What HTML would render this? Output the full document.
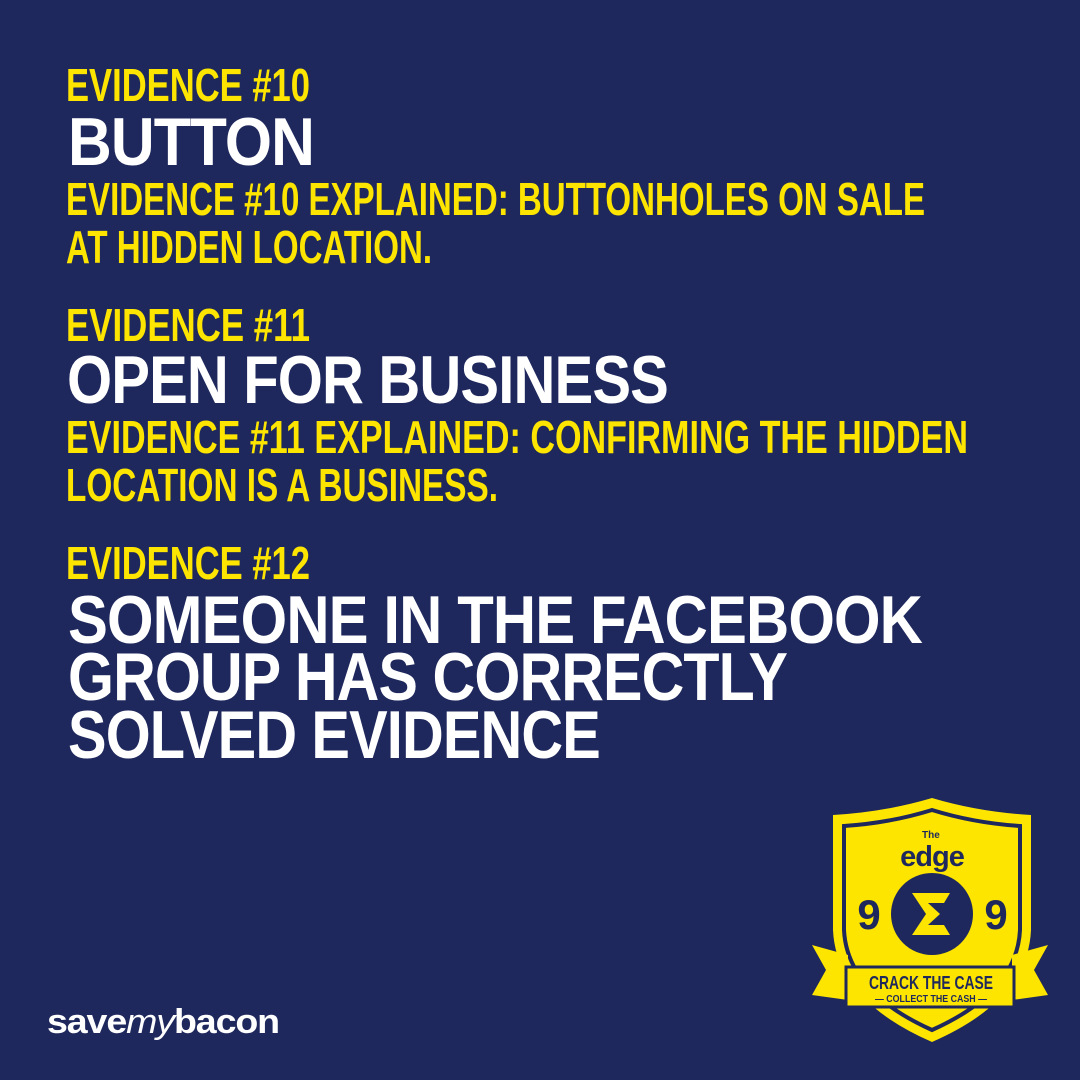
<!DOCTYPE html>
<html><head><meta charset="utf-8">
<style>
html,body{margin:0;padding:0}
body{width:1080px;height:1080px;background:#1e285c;position:relative;overflow:hidden;font-family:"Liberation Sans",sans-serif}
.l{position:absolute;white-space:nowrap;line-height:1;transform-origin:0 0}
.y{color:#fde500;font-family:"Liberation Sans Narrow","Liberation Sans",sans-serif;font-weight:bold;font-size:46px}
.w{color:#fff;font-weight:bold;font-size:68px;letter-spacing:-1px}
</style></head><body>
<div class="l y" data-w="244" style="left:66px;top:62px">EVIDENCE #10</div>
<div class="l w" data-w="246" style="left:68px;top:108px">BUTTON</div>
<div class="l y" data-w="859" style="left:66px;top:176px">EVIDENCE #10 EXPLAINED: BUTTONHOLES ON SALE</div>
<div class="l y" data-w="366" style="left:66px;top:224px">AT HIDDEN LOCATION.</div>
<div class="l y" data-w="244" style="left:66px;top:302px">EVIDENCE #11</div>
<div class="l w" data-w="601" style="left:67px;top:346px">OPEN FOR BUSINESS</div>
<div class="l y" data-w="902" style="left:66px;top:414px">EVIDENCE #11 EXPLAINED: CONFIRMING THE HIDDEN</div>
<div class="l y" data-w="432" style="left:66px;top:462px">LOCATION IS A BUSINESS.</div>
<div class="l y" data-w="244" style="left:66px;top:540px">EVIDENCE #12</div>
<div class="l w" data-w="854" style="left:68px;top:586px">SOMEONE IN THE FACEBOOK</div>
<div class="l w" data-w="719" style="left:68px;top:643px">GROUP HAS CORRECTLY</div>
<div class="l w" data-w="532" style="left:68px;top:701px">SOLVED EVIDENCE</div>

<div class="l" data-w="232" style="left:47px;top:1005px;color:#fff;font-size:34px;font-weight:bold;letter-spacing:-1px">save<span style="font-weight:normal;font-style:italic">my</span>bacon</div>

<svg width="1080" height="1080" style="position:absolute;left:0;top:0">
  <path d="M833 815 Q885 812 932 798 Q979 812 1031 815 L1031 930 Q1028 1000 932 1042 Q836 1000 833 930 Z" fill="#fde500"/>
  <path d="M844 826 Q890 823 932 810 Q974 823 1020 826 L1020 930 Q1017 992 932 1030 Q847 992 844 930 Z" fill="none" stroke="#1e285c" stroke-width="4"/>
  <path d="M812 945 L848 955 L848 1000 L812 995 L826 970 Z" fill="#fde500"/>
  <path d="M1048 945 L1012 955 L1012 1000 L1048 995 L1034 970 Z" fill="#fde500"/>
  <rect x="846" y="967" width="168" height="40" fill="#fde500" stroke="#1e285c" stroke-width="3"/>
  <text x="869" y="989" textLength="124" lengthAdjust="spacingAndGlyphs" font-family="'Liberation Sans', sans-serif" font-weight="bold" font-size="18" fill="#1e285c">CRACK THE CASE</text>
  <text x="875" y="1002" textLength="112" lengthAdjust="spacingAndGlyphs" font-family="'Liberation Sans', sans-serif" font-weight="bold" font-size="10" fill="#1e285c">— COLLECT THE CASH —</text>
  <text x="922" y="838" font-family="'Liberation Sans', sans-serif" font-weight="bold" font-size="10" fill="#1e285c">The</text>
  <text x="932" y="866" text-anchor="middle" font-family="'Liberation Sans', sans-serif" font-weight="bold" font-size="29" fill="#1e285c" letter-spacing="-1">edge</text>
  <circle cx="932" cy="914" r="41" fill="#1e285c"/>
  <path d="M912 893 L950 893 L944 903 L928 903 L940 914 L928 925 L944 925 L950 935 L912 935 L926 914 Z" fill="#fde500"/>
  <text x="869" y="929" text-anchor="middle" font-family="'Liberation Sans', sans-serif" font-weight="bold" font-size="42" fill="#1e285c">9</text>
  <text x="996" y="929" text-anchor="middle" font-family="'Liberation Sans', sans-serif" font-weight="bold" font-size="42" fill="#1e285c">9</text>
</svg>
<script>
document.querySelectorAll('.l[data-w]').forEach(function(el){
  var w=el.getBoundingClientRect().width;
  var t=parseFloat(el.getAttribute('data-w'));
  if(w>0) el.style.transform='scaleX('+(t/w)+')';
});
</script>
</body></html>
